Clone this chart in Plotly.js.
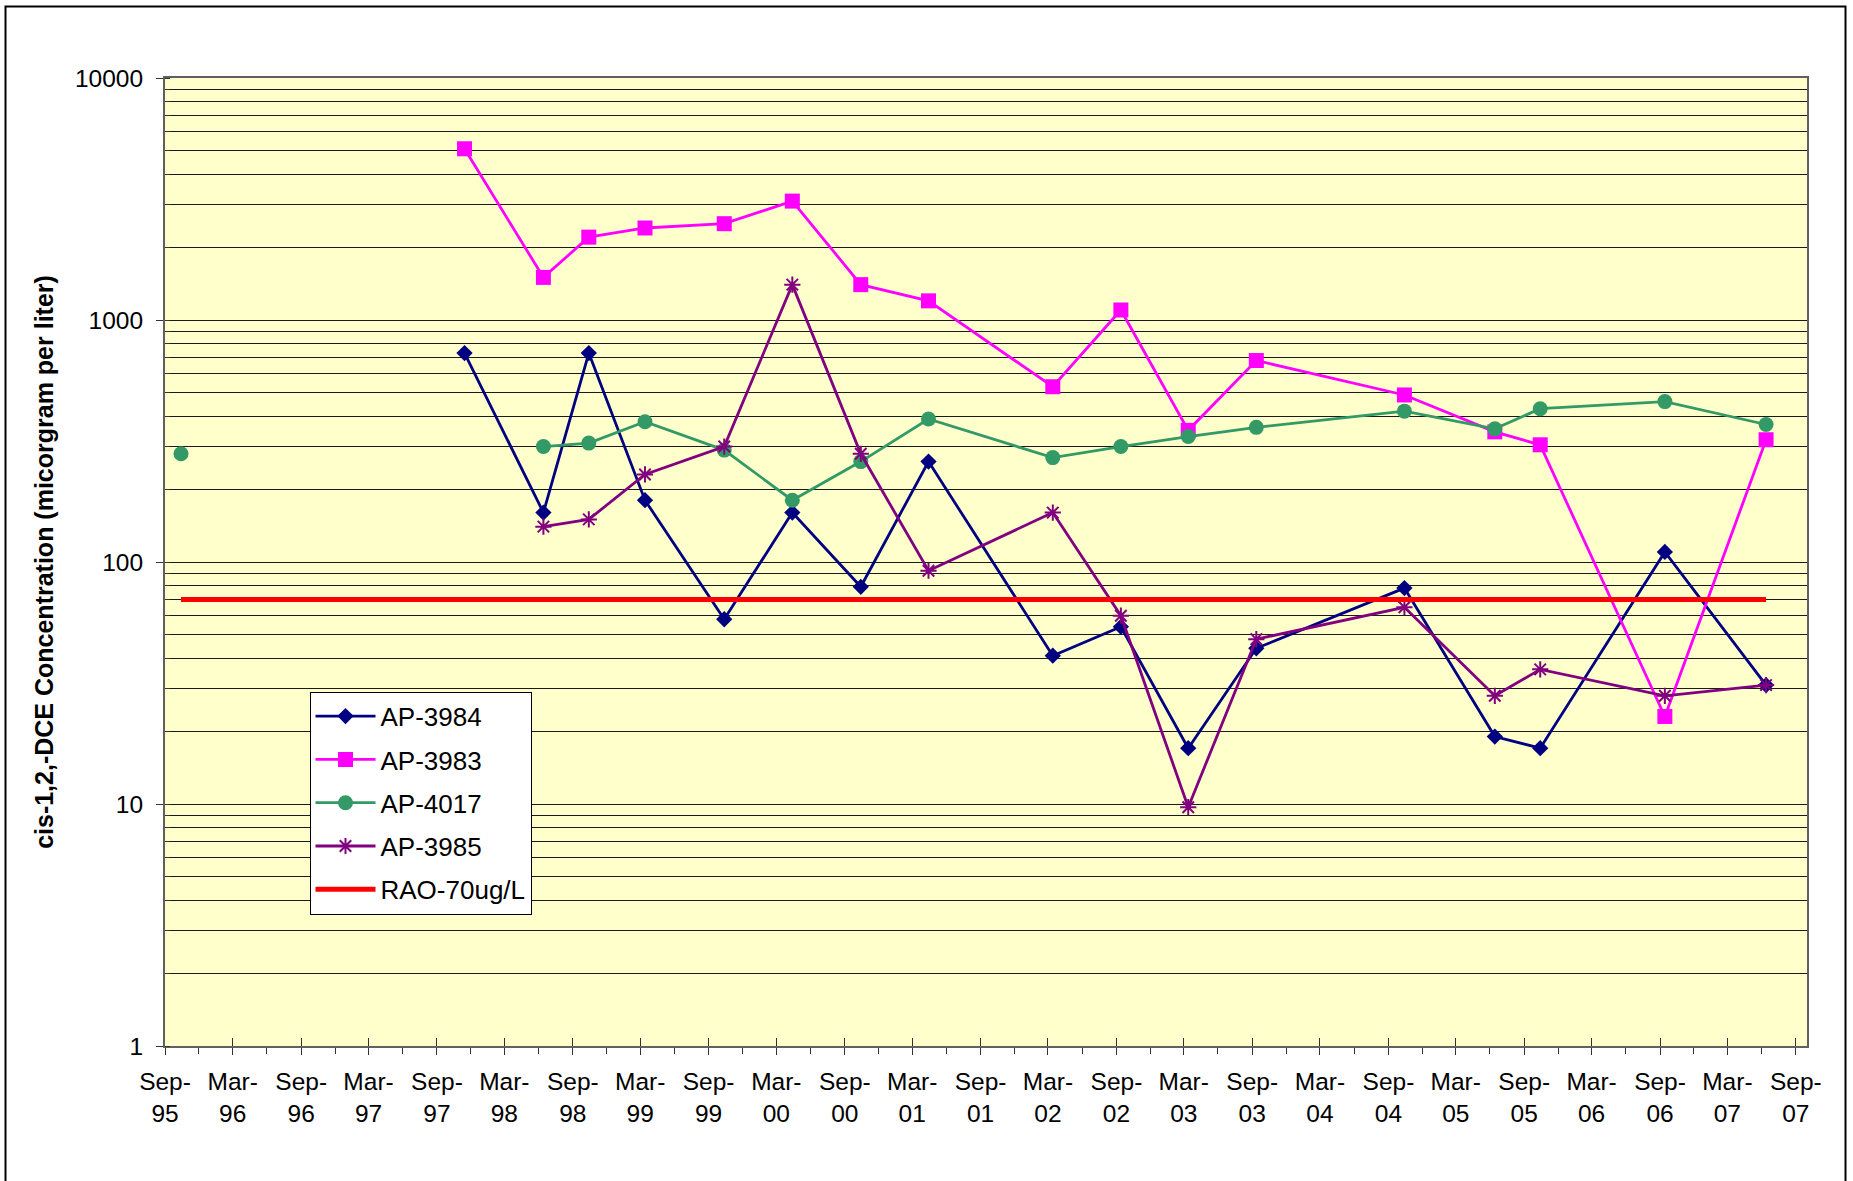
<!DOCTYPE html>
<html>
<head>
<meta charset="utf-8">
<script src="https://cdn.plot.ly/plotly-3.0.1.min.js"></script>
<style>
  html, body { margin: 0; padding: 0; background: #ffffff; }
  #chart { width: 1853px; height: 1181px; }
</style>
</head>
<body>
<div id="chart"></div>
<script>
// ---- Data ----
const sampleDates = ['1995-10-14','1997-11-14','1998-06-14','1998-10-14','1999-03-14','1999-10-13',
  '2000-04-13','2000-10-14','2001-04-14','2002-03-14','2002-09-13','2003-03-13','2003-09-12',
  '2004-10-14','2005-06-14','2005-10-14','2006-09-14','2007-06-13'];

const ap3984 = [null, 730, 160, 730, 180, 58, 160, 79, 260, 41, 54, 17, 44, 78, 19, 17, 110, 31];
const ap3983 = [null, 5100, 1500, 2200, 2400, 2500, 3100, 1400, 1200, 530, 1100, 350, 680, 490, 345, 305, 23, 320];
const ap4017 = [280, null, 300, 310, 380, 290, 180, 260, 390, 270, 300, 330, 360, 420, 355, 430, 460, 370];
const ap3985 = [null, null, 140, 150, 230, 300, 1400, 280, 92, 160, 60, 9.7, 48, 65, 28, 36, 28, 31];
const rao70  = [70, 70, 70, 70, 70, 70, 70, 70, 70, 70, 70, 70, 70, 70, 70, 70, 70, 70];

const seriesNames = ['AP-3984', 'AP-3983', 'AP-4017', 'AP-3985', 'RAO-70ug/L'];

const xTickVals = ['1995-09-01','1996-03-01','1996-09-01','1997-03-01','1997-09-01','1998-03-01',
  '1998-09-01','1999-03-01','1999-09-01','2000-03-01','2000-09-01','2001-03-01','2001-09-01',
  '2002-03-01','2002-09-01','2003-03-01','2003-09-01','2004-03-01','2004-09-01','2005-03-01',
  '2005-09-01','2006-03-01','2006-09-01','2007-03-01','2007-09-01'];
const xTickText = ['Sep-<br>95','Mar-<br>96','Sep-<br>96','Mar-<br>97','Sep-<br>97','Mar-<br>98',
  'Sep-<br>98','Mar-<br>99','Sep-<br>99','Mar-<br>00','Sep-<br>00','Mar-<br>01','Sep-<br>01',
  'Mar-<br>02','Sep-<br>02','Mar-<br>03','Sep-<br>03','Mar-<br>04','Sep-<br>04','Mar-<br>05',
  'Sep-<br>05','Mar-<br>06','Sep-<br>06','Mar-<br>07','Sep-<br>07'];
const yTickVals = [1, 10, 100, 1000, 10000];
const yTickText = ['1', '10', '100', '1000', '10000'];

const xRange = ['1995-09-01', '2007-10-01'];

// ---- Styling ----
const FONT = 'Liberation Sans, Arial, Helvetica, sans-serif';
const lineW = 2.8;

const traces = [
  { name: seriesNames[0], x: sampleDates, y: ap3984, type: 'scatter', mode: 'lines+markers',
    legendgroup: 'g1', connectgaps: false,
    line: { color: '#000080', width: lineW },
    marker: { symbol: 'diamond', size: 12.5, color: '#000080' } },
  { name: seriesNames[1], x: sampleDates, y: ap3983, type: 'scatter', mode: 'lines+markers',
    legendgroup: 'g2', connectgaps: false,
    line: { color: '#FF00FF', width: lineW },
    marker: { symbol: 'square', size: 15, color: '#FF00FF' } },
  { name: seriesNames[2], x: sampleDates, y: ap4017, type: 'scatter', mode: 'lines+markers',
    legendgroup: 'g3', connectgaps: false,
    line: { color: '#339966', width: lineW },
    marker: { symbol: 'circle', size: 15, color: '#339966' } },
  { name: seriesNames[3], x: sampleDates, y: ap3985, type: 'scatter', mode: 'lines+markers',
    legendgroup: 'g4', connectgaps: false,
    line: { color: '#800080', width: lineW },
    marker: { symbol: 'asterisk-open', size: 13.5, color: '#800080', line: { color: '#800080', width: 2 } } },
  { name: seriesNames[4], x: sampleDates, y: rao70, type: 'scatter', mode: 'lines',
    legendgroup: 'g5',
    line: { color: '#FF0000', width: 5 } },
  // empty helper trace so the overlay axis (inner half of major x ticks) is drawn
  { x: [], y: [], type: 'scatter', mode: 'lines', xaxis: 'x2', yaxis: 'y',
    showlegend: false, hoverinfo: 'skip' }
];

const L = 165, R = 46, T = 78, B = 135;
const W = 1853, H = 1181;
const pw = W - L - R, ph = H - T - B;

const layout = {
  width: W, height: H,
  margin: { l: L, r: R, t: T, b: B, pad: 0 },
  paper_bgcolor: '#ffffff',
  plot_bgcolor: '#FFFFCC',
  font: { family: FONT, color: '#000000', size: 24.5 },
  showlegend: true,
  legend: {
    x: (309.5 - L) / pw, y: (H - B - 691.7) / ph, xanchor: 'left', yanchor: 'top',
    bgcolor: '#ffffff', bordercolor: '#000000', borderwidth: 1,
    font: { family: FONT, size: 26, color: '#000000' },
    tracegroupgap: 6.5, traceorder: 'grouped', itemwidth: 60
  },
  xaxis: {
    type: 'date', range: xRange, autorange: false,
    tickmode: 'array', tickvals: xTickVals, ticktext: xTickText,
    ticks: 'outside', ticklen: 7, tickwidth: 1, tickcolor: '#333333',
    ticklabelstandoff: 6,
    tickfont: { family: FONT, size: 24.5, color: '#000000' },
    showgrid: false, zeroline: false,
    showline: true, linecolor: '#606060', linewidth: 2, mirror: true,
    minor: { dtick: 'M3', tick0: '1995-09-01', ticks: 'outside', ticklen: 6, tickwidth: 1,
             tickcolor: '#333333', showgrid: false }
  },
  xaxis2: {
    type: 'date', overlaying: 'x', matches: 'x', anchor: 'y', side: 'bottom',
    range: xRange, autorange: false,
    tickmode: 'array', tickvals: xTickVals, showticklabels: false,
    ticks: 'inside', ticklen: 8, tickwidth: 1, tickcolor: '#333333',
    showgrid: false, zeroline: false, showline: false
  },
  yaxis: {
    type: 'log', range: [0, 4], autorange: false,
    tickmode: 'array', tickvals: yTickVals, ticktext: yTickText,
    ticks: 'outside', ticklen: 7, tickwidth: 1, tickcolor: '#333333',
    ticklabelstandoff: 8,
    tickfont: { family: FONT, size: 24.5, color: '#000000' },
    showgrid: true, gridcolor: '#1a1a1a', gridwidth: 1,
    zeroline: false,
    showline: true, linecolor: '#606060', linewidth: 2, mirror: true,
    minor: { dtick: 'D1', ticks: 'inside', ticklen: 5, tickwidth: 1, tickcolor: '#333333',
             showgrid: true, gridcolor: '#1a1a1a', gridwidth: 1 },
    title: {
      text: 'cis-1,2,-DCE Concentration (micorgram per liter)',
      font: { family: FONT, size: 25, color: '#000000', weight: 'bold' },
      standoff: 14
    }
  },
  shapes: [
    { type: 'rect', xref: 'paper', yref: 'paper',
      x0: (5.5 - L) / pw, x1: (1845.5 - L) / pw,
      y0: (H - B - 1200) / ph, y1: (H - B - 6.5) / ph,
      line: { color: '#000000', width: 2 }, fillcolor: 'rgba(0,0,0,0)', layer: 'above' }
  ]
};

Plotly.newPlot('chart', traces, layout, { displayModeBar: false, staticPlot: true });
</script>
</body>
</html>
